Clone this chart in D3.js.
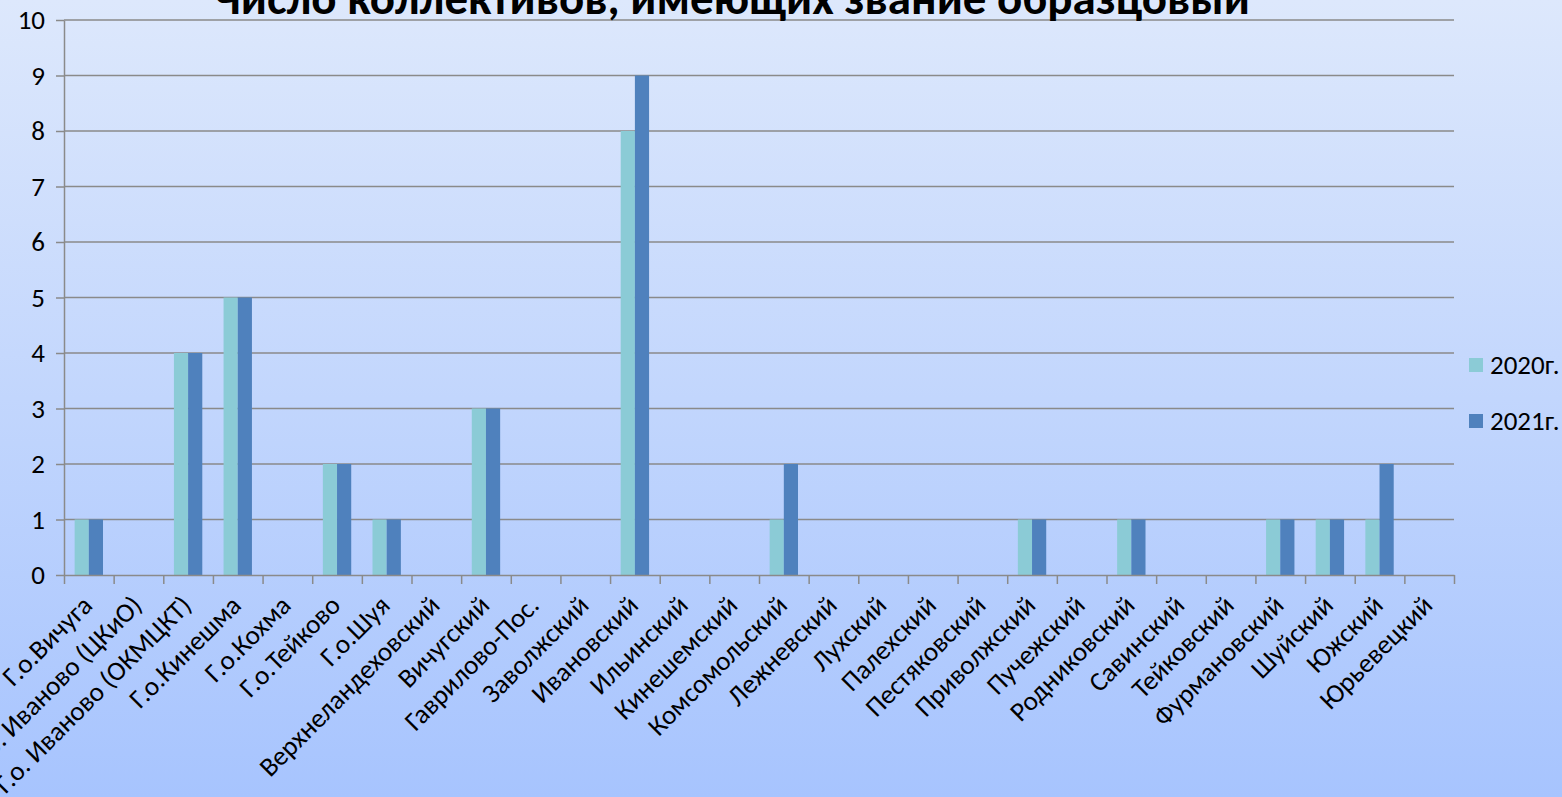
<!DOCTYPE html>
<html lang="ru">
<head>
  <meta charset="UTF-8">
  <title>Число коллективов</title>
  <script src="https://d3js.org/d3.v7.min.js"></script>
  <style>
    body { margin: 0; overflow: hidden; }
    text { font-family: Calibri, Carlito, "Open Sans", sans-serif; }
  </style>
</head>
<body>
  <div id="chart"></div>

  <script>
    // данные
    const categories = [
      "Г.о.Вичуга", "Г.о. Иваново (ЦКиО)", "Г.о. Иваново (ОКМЦКТ)", "Г.о.Кинешма",
      "Г.о.Кохма", "Г.о.Тейково", "Г.о.Шуя", "Верхнеландеховский", "Вичугский",
      "Гаврилово-Пос.", "Заволжский", "Ивановский", "Ильинский", "Кинешемский",
      "Комсомольский", "Лежневский", "Лухский", "Палехский", "Пестяковский",
      "Приволжский", "Пучежский", "Родниковский", "Савинский", "Тейковский",
      "Фурмановский", "Шуйский", "Южский", "Юрьевецкий"
    ];
    const series = ["2020г.", "2021г."];
    const values2020 = [1, 0, 4, 5, 0, 2, 1, 0, 3, 0, 0, 8, 0, 0, 1, 0, 0, 0, 0, 1, 0, 1, 0, 0, 1, 1, 1, 0];
    const values2021 = [1, 0, 4, 5, 0, 2, 1, 0, 3, 0, 0, 9, 0, 0, 2, 0, 0, 0, 0, 1, 0, 1, 0, 0, 1, 1, 2, 0];
    const yTicks = [0, 1, 2, 3, 4, 5, 6, 7, 8, 9, 10];
    const title = "Число коллективов, имеющих звание образцовый";

    const W = 1562, H = 797;
    const margin = {top: 20, right: 108, bottom: 222, left: 64};
    const colors = ["#8bcbd6", "#4f81bd"];

    const svg = d3.select("#chart").append("svg")
      .attr("width", W).attr("height", H);

    // фон
    const grad = svg.append("defs").append("linearGradient")
      .attr("id", "bg").attr("x1", 0).attr("y1", 0).attr("x2", 0).attr("y2", 1);
    grad.append("stop").attr("offset", "0%").attr("stop-color", "#dde8fc");
    grad.append("stop").attr("offset", "100%").attr("stop-color", "#a7c4fe");
    svg.append("rect").attr("width", W).attr("height", H).attr("fill", "url(#bg)");

    const x = d3.scaleBand()
      .domain(categories)
      .range([margin.left, W - margin.right]);

    const x1 = d3.scaleBand()
      .domain(series)
      .range([0, x.bandwidth()])
      .paddingOuter(0.75);

    const y = d3.scaleLinear()
      .domain([0, 10])
      .range([H - margin.bottom, margin.top]);

    // сетка
    svg.append("g")
      .selectAll("line")
      .data(yTicks.slice(1))
      .join("line")
      .attr("x1", margin.left).attr("x2", W - margin.right)
      .attr("y1", d => y(d)).attr("y2", d => y(d))
      .attr("stroke", "#8a8a8a").attr("stroke-width", 1.5);

    // столбцы
    const data = categories.map((c, i) => ({cat: c, vals: [values2020[i], values2021[i]]}));
    const groups = svg.append("g")
      .selectAll("g")
      .data(data)
      .join("g")
      .attr("transform", d => `translate(${x(d.cat)},0)`);

    groups.selectAll("rect")
      .data(d => d.vals.map((v, j) => ({s: series[j], v: v, j: j})))
      .join("rect")
      .attr("x", d => x1(d.s))
      .attr("width", x1.bandwidth())
      .attr("y", d => y(d.v))
      .attr("height", d => y(0) - y(d.v))
      .attr("fill", d => colors[d.j]);

    // ось Y
    const yAxis = svg.append("g")
      .attr("transform", `translate(${margin.left},0)`)
      .call(d3.axisLeft(y).tickValues(yTicks).tickSize(8).tickPadding(11).tickSizeOuter(0));
    yAxis.select(".domain").attr("stroke", "#8a8a8a").attr("stroke-width", 1.5);
    yAxis.selectAll(".tick line").attr("stroke", "#8a8a8a").attr("stroke-width", 1.5);
    yAxis.selectAll(".tick text")
      .style("font-size", "27px").attr("fill", "#000");

    // ось X
    const xAxis = svg.append("g")
      .attr("transform", `translate(0,${y(0)})`)
      .call(d3.axisBottom(d3.scaleLinear().domain([0, categories.length]).range(x.range()))
        .tickValues(d3.range(categories.length + 1))
        .tickSize(9).tickSizeOuter(0).tickFormat(""));
    xAxis.select(".domain").attr("stroke", "#8a8a8a").attr("stroke-width", 1.5);
    xAxis.selectAll(".tick line").attr("stroke", "#8a8a8a").attr("stroke-width", 1.5);

    svg.append("g")
      .selectAll("text")
      .data(categories)
      .join("text")
      .attr("transform", d => `translate(${x(d) + x.bandwidth() / 2 + 5},${y(0) + 32}) rotate(-45)`)
      .attr("text-anchor", "end")
      .style("font-size", "27px")
      .attr("fill", "#000")
      .text(d => d);

    // легенда
    const legend = svg.append("g")
      .selectAll("g")
      .data(series)
      .join("g")
      .attr("transform", (d, i) => `translate(1469,${358 + i * 56})`);
    legend.append("rect")
      .attr("width", 14).attr("height", 14)
      .attr("fill", (d, i) => colors[i]);
    legend.append("text")
      .attr("x", 21).attr("y", 7).attr("dy", "0.35em")
      .style("font-size", "27px")
      .text(d => d);

    // заголовок (обрезан сверху, как в исходнике)
    svg.append("text")
      .attr("x", 732).attr("y", 14)
      .attr("text-anchor", "middle")
      .style("font-size", "47px").style("font-weight", "bold")
      .text(title);
  </script>
</body>
</html>
